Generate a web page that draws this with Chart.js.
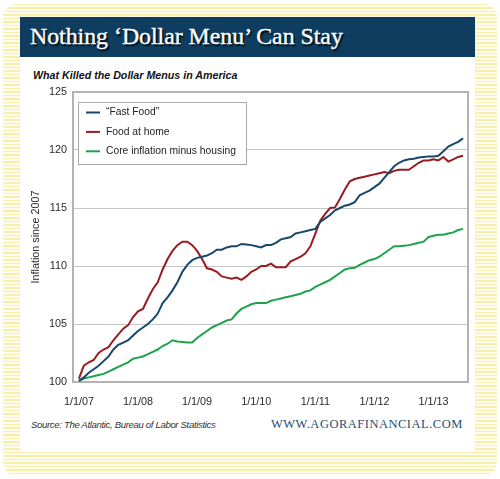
<!DOCTYPE html>
<html>
<head>
<meta charset="utf-8">
<script src="https://cdn.jsdelivr.net/npm/chart.js@4"></script>
<style>
  html, body { margin: 0; padding: 0; background: #fff; }
  #page { position: relative; width: 500px; height: 479px; overflow: hidden; background: #fff; }
  #stripes {
    position: absolute; left: 3px; top: 4px; width: 494px; height: 472px;
    border-radius: 14px;
    background: repeating-linear-gradient(to bottom, #faefa8 0px, #faefa8 1.5px, #fffdf0 1.5px, #fffdf0 3.5px);
  }
  #card { position: absolute; left: 20px; top: 17px; width: 455px; height: 435px; background: #fff; box-shadow: 0 0 1px #e4dfbf; }
  #header { position: absolute; left: 0; top: 0; width: 455px; height: 40px; background: #0f3d5f; }
  #title {
    position: absolute; left: 10px; top: 6px; color: #fff;
    font-family: "Liberation Serif", serif; font-size: 23.8px; white-space: nowrap;
    -webkit-text-stroke: 0.35px #fff; text-shadow: 1.5px 1.5px 1.5px #000;
  }
  #subtitle {
    position: absolute; left: 13px; top: 52px; color: #111;
    font-family: "Liberation Sans", Arial, sans-serif; font-weight: bold; font-style: italic;
    font-size: 10.7px; white-space: nowrap;
  }
  #chartBox { position: absolute; left: 0; top: 68px; width: 455px; height: 330px; }
  #source {
    position: absolute; left: 11px; top: 402px; color: #333;
    font-family: "Liberation Sans", Arial, sans-serif; font-style: italic; font-size: 9.6px;
    letter-spacing: -0.35px; white-space: nowrap;
  }
  #site {
    position: absolute; left: 251px; top: 400px; color: #1f4d73;
    font-family: "Liberation Serif", serif; font-size: 12.5px; letter-spacing: 0.5px; white-space: nowrap;
  }
</style>
</head>
<body>
<div id="page">
  <div id="stripes"></div>
  <div id="card">
    <div id="header"><div id="title">Nothing ‘Dollar Menu’ Can Stay</div></div>
    <div id="subtitle">What Killed the Dollar Menus in America</div>
    <div id="chartBox"><canvas id="chart"></canvas></div>
    <div id="source">Source: The Atlantic, Bureau of Labor Statistics</div>
    <div id="site">WWW.AGORAFINANCIAL.COM</div>
  </div>
</div>
<script>
// Monthly index values, Jan 2007 = 100
const fastFood = [
  100.1, 100.4, 100.8, 101.1, 101.4, 101.8, 102.2, 102.8, 103.2, 103.4, 103.6, 104.0,
  104.4, 104.7, 105.0, 105.4, 105.9, 106.8, 107.3, 107.9, 108.6, 109.5, 110.1, 110.5,
  110.7, 110.8, 110.9, 111.1, 111.4, 111.4, 111.6, 111.7, 111.7, 111.9, 111.85, 111.8,
  111.7, 111.6, 111.8, 111.8, 112.0, 112.3, 112.4, 112.5, 112.8, 112.9, 113.0, 113.1,
  113.2, 113.8, 114.1, 114.4, 114.8, 115.0, 115.2, 115.3, 115.5, 116.1, 116.3, 116.5,
  116.8, 117.1, 117.6, 118.1, 118.6, 118.9, 119.1, 119.2, 119.25, 119.35, 119.4, 119.45,
  119.45, 119.5, 119.9, 120.3, 120.5, 120.7, 121.0
];
const foodAtHome = [
  100.3, 101.4, 101.7, 101.9, 102.5, 102.8, 103.0, 103.6, 104.1, 104.6, 104.9, 105.6,
  106.1, 106.3, 107.2, 108.0, 108.6, 109.7, 110.6, 111.3, 111.8, 112.1, 112.1, 111.8,
  111.3, 110.6, 109.8, 109.7, 109.5, 109.1, 109.0, 108.9, 109.0, 108.8, 109.1, 109.5,
  109.7, 110.0, 110.0, 110.2, 109.9, 109.9, 109.9, 110.4, 110.6, 110.8, 111.1, 111.7,
  112.8, 113.9, 114.5, 115.0, 115.05, 115.8, 116.6, 117.3, 117.5, 117.6, 117.7, 117.8,
  117.9, 118.0, 118.1, 118.0, 118.2, 118.3, 118.3, 118.3, 118.6, 118.9, 119.1, 119.1,
  119.2, 119.1, 119.4, 119.0, 119.2, 119.4, 119.5
];
const coreInflation = [
  100.1, 100.3, 100.4, 100.5, 100.6, 100.7, 100.9, 101.1, 101.3, 101.5, 101.7, 102.0,
  102.1, 102.2, 102.4, 102.6, 102.8, 103.1, 103.3, 103.6, 103.5, 103.45, 103.4, 103.4,
  103.8, 104.1, 104.4, 104.7, 104.9, 105.1, 105.3, 105.4, 105.9, 106.3, 106.5, 106.7,
  106.8, 106.8, 106.8, 107.0, 107.1, 107.2, 107.3, 107.4, 107.5, 107.6, 107.8, 107.9,
  108.2, 108.4, 108.6, 108.8, 109.1, 109.4, 109.7, 109.8, 109.85, 110.1, 110.3, 110.5,
  110.6, 110.8, 111.1, 111.4, 111.7, 111.7, 111.75, 111.8, 111.9, 112.0, 112.1, 112.5,
  112.6, 112.7, 112.7, 112.8, 112.9, 113.1, 113.2
];

const tickMonths = [0, 12, 24, 36, 48, 60, 72];
const tickLabels = ['1/1/07', '1/1/08', '1/1/09', '1/1/10', '1/1/11', '1/1/12', '1/1/13'];
const yTicks = [100, 105, 110, 115, 120, 125];

const months = fastFood.map((_, i) => i);

const colors = {
  fast: '#17476b',
  home: '#9a1b1f',
  core: '#1ea34b',
  grid: '#c6c6c6',
  frame: '#b3b3b3',
  text: '#2a2a2a'
};

const tickFont = { family: '"Liberation Sans", Arial, sans-serif', size: 10.8 };

// frame around the plot area
const framePlugin = {
  id: 'frame',
  beforeDatasetsDraw(chart) {
    const { ctx, chartArea: a } = chart;
    ctx.save();
    ctx.strokeStyle = colors.frame;
    ctx.lineWidth = 2;
    ctx.strokeRect(a.left, a.top, a.right - a.left, a.bottom - a.top);
    ctx.restore();
  }
};

// boxed legend inside the plot
const boxLegend = {
  id: 'boxLegend',
  afterDraw(chart) {
    const { ctx } = chart;
    const x = 58, y = 17, w = 168, h = 62;
    ctx.save();
    ctx.fillStyle = '#fff';
    ctx.fillRect(x, y, w, h);
    ctx.strokeStyle = '#a8a8a8';
    ctx.lineWidth = 1;
    ctx.strokeRect(x + 0.5, y + 0.5, w, h);
    ctx.font = '10.3px "Liberation Sans", Arial, sans-serif';
    ctx.textBaseline = 'middle';
    chart.data.datasets.forEach((ds, i) => {
      const ry = y + 10.5 + i * 19.4;
      ctx.strokeStyle = ds.borderColor;
      ctx.lineWidth = 2;
      ctx.beginPath();
      ctx.moveTo(x + 8, ry);
      ctx.lineTo(x + 22, ry);
      ctx.stroke();
      ctx.fillStyle = '#222';
      ctx.fillText(ds.label, x + 28, ry);
    });
    ctx.restore();
  }
};

const line = (label, data, color) => ({
  label,
  data,
  borderColor: color,
  backgroundColor: color,
  borderWidth: 2,
  pointRadius: 0,
  tension: 0,
  fill: false
});

new Chart(document.getElementById('chart'), {
  type: 'line',
  data: {
    labels: months,
    datasets: [
      line('\u201CFast Food\u201D', fastFood, colors.fast),
      line('Food at home', foodAtHome, colors.home),
      line('Core inflation minus housing', coreInflation, colors.core)
    ]
  },
  options: {
    responsive: true,
    maintainAspectRatio: false,
    animation: false,
    layout: { padding: { left: 0, right: 7, top: 7, bottom: 0 } },
    plugins: {
      legend: { display: false },
      tooltip: { enabled: false }
    },
    scales: {
      x: {
        type: 'linear',
        min: -1.2,
        max: 79,
        afterBuildTicks: s => { s.ticks = tickMonths.map(v => ({ value: v })); },
        afterFit: s => { s.height = 33; s.paddingLeft = 0; s.paddingRight = 0; },
        grid: { display: false, drawTicks: false },
        border: { display: false },
        ticks: {
          autoSkip: false,
          maxRotation: 0,
          padding: 14,
          color: colors.text,
          font: tickFont,
          callback: v => tickLabels[tickMonths.indexOf(v)]
        }
      },
      y: {
        min: 100,
        max: 125,
        afterBuildTicks: s => { s.ticks = yTicks.map(v => ({ value: v })); },
        afterFit: s => { s.width = 53; s.paddingTop = 0; s.paddingBottom = 0; },
        grid: {
          drawTicks: false,
          lineWidth: 1,
          color: c => (c.tick.value === 100 || c.tick.value === 125) ? 'rgba(0,0,0,0)' : colors.grid
        },
        border: { display: false },
        ticks: { padding: 6, color: colors.text, font: tickFont },
        title: {
          display: true,
          text: 'Inflation since 2007',
          color: colors.text,
          font: { family: '"Liberation Sans", Arial, sans-serif', size: 10.8 },
          padding: { top: 10, bottom: 0 }
        }
      }
    }
  },
  plugins: [framePlugin, boxLegend]
});
</script>
</body>
</html>
